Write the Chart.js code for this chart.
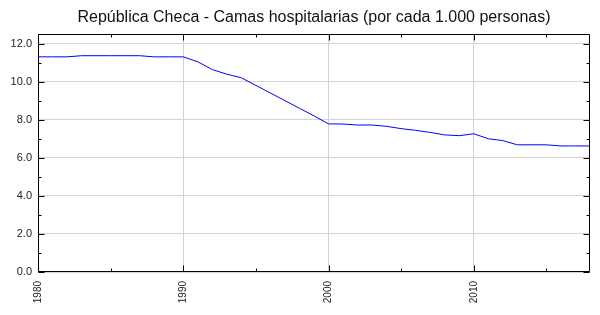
<!DOCTYPE html>
<html>
<head>
<meta charset="utf-8">
<script src="https://cdn.jsdelivr.net/npm/chart.js@4"></script>
<style>
html,body{margin:0;padding:0;background:#fff;}
#wrap{width:600px;height:315px;position:relative;}
</style>
</head>
<body>
<div id="wrap"><canvas id="c" width="600" height="315"></canvas></div>
<script>
const titleText = "República Checa - Camas hospitalarias (por cada 1.000 personas)";
const years = [1980,1981,1982,1983,1984,1985,1986,1987,1988,1989,
               1990,1991,1992,1993,1994,1995,1996,1997,1998,1999,
               2000,2001,2002,2003,2004,2005,2006,2007,2008,2009,
               2010,2011,2012,2013,2014,2015,2016,2017,2018];
const beds = [11.3,11.3,11.3,11.36,11.36,11.36,11.36,11.36,11.3,11.3,
              11.3,11.04,10.63,10.39,10.2,9.8,9.4,9.0,8.6,8.2,
              7.78,7.77,7.72,7.72,7.65,7.53,7.44,7.33,7.2,7.16,
              7.26,7.0,6.9,6.68,6.68,6.68,6.62,6.62,6.62];
const xMajorTicks = [1980,1990,2000,2010];
const yMajorTicks = [0,2,4,6,8,10,12];
const xRange = [1980, 2018];
const yRange = [0, 12.5];

const frame = {
  id: 'frame',
  afterDraw(chart) {
    const ctx = chart.ctx, a = chart.chartArea;
    const xs = chart.scales.x, ys = chart.scales.y;
    ctx.save();
    // title centred over the plot area
    ctx.fillStyle = '#111';
    ctx.font = '16px "Liberation Sans", Arial, sans-serif';
    ctx.textAlign = 'center';
    ctx.textBaseline = 'middle';
    ctx.fillText(titleText, (a.left + a.right) / 2, 18);

    ctx.strokeStyle = '#000';
    ctx.lineWidth = 1;
    const L = Math.round(a.left) + 0.5, R = Math.round(a.right) - 0.5;
    const T = Math.round(a.top) + 0.5, B = Math.round(a.bottom) - 0.5;
    ctx.beginPath();
    for (let v = xRange[0]; v <= xRange[1]; v += 5) {
      const px = Math.round(xs.getPixelForValue(v)) + 0.5;
      const len = (v % 10 === 0) ? 6 : 3;
      ctx.moveTo(px, B); ctx.lineTo(px, B - len);
      ctx.moveTo(px, T); ctx.lineTo(px, T + len);
    }
    for (let v = yRange[0]; v <= 12; v += 1) {
      const py = Math.round(ys.getPixelForValue(v)) + 0.5;
      const len = (v % 2 === 0) ? 6 : 3;
      ctx.moveTo(L, py); ctx.lineTo(L + len, py);
      ctx.moveTo(R, py); ctx.lineTo(R - len, py);
    }
    ctx.stroke();
    ctx.beginPath();
    ctx.rect(L, T, R - L, B - T);
    ctx.stroke();
    ctx.restore();
  }
};

new Chart(document.getElementById('c'), {
  type: 'line',
  data: {
    datasets: [{
      data: years.map((y, i) => ({x: y, y: beds[i]})),
      borderColor: '#0000ff',
      borderWidth: 1,
      pointRadius: 0,
      tension: 0,
      fill: false
    }]
  },
  options: {
    responsive: false,
    devicePixelRatio: 1,
    animation: false,
    layout: {padding: {left: 0, right: 10, top: 34, bottom: 0}},
    plugins: {
      legend: {display: false},
      tooltip: {enabled: false},
      title: {display: false}
    },
    scales: {
      x: {
        type: 'linear',
        min: xRange[0], max: xRange[1],
        afterBuildTicks: s => { s.ticks = xMajorTicks.map(v => ({value: v})); },
        afterFit: s => { s.height = 43; },
        grid: {color: '#d3d3d3', drawTicks: false},
        border: {display: false},
        ticks: {
          minRotation: 90, maxRotation: 90, padding: 9,
          color: '#222',
          font: {family: '"Liberation Sans", Arial, sans-serif', size: 10},
          callback: v => String(v)
        }
      },
      y: {
        min: yRange[0], max: yRange[1],
        afterBuildTicks: s => { s.ticks = yMajorTicks.map(v => ({value: v})); },
        afterFit: s => { s.width = 38; },
        grid: {color: '#d3d3d3', drawTicks: false},
        border: {display: false},
        ticks: {
          padding: 6,
          color: '#222',
          font: {family: '"Liberation Sans", Arial, sans-serif', size: 11},
          callback: v => Number(v).toFixed(1)
        }
      }
    }
  },
  plugins: [frame]
});
</script>
</body>
</html>
